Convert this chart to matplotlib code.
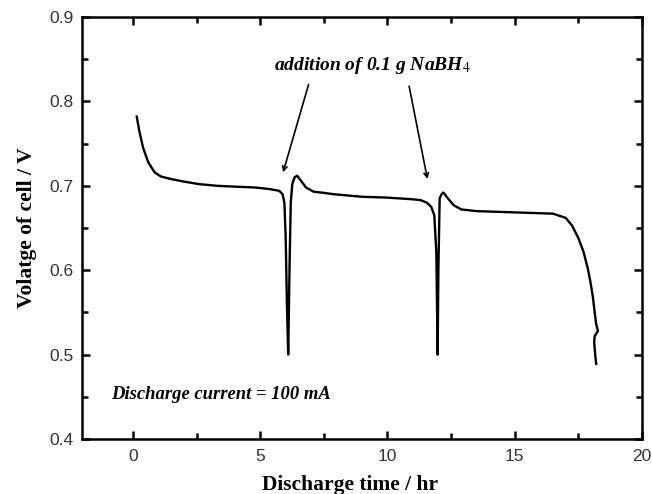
import matplotlib
matplotlib.use("Agg")
import matplotlib.pyplot as plt
from matplotlib.ticker import MultipleLocator

# discharge curve
time_hr = [0.15, 0.25, 0.4, 0.6, 0.85, 1.1, 1.5, 2.0, 2.6, 3.3, 4.0, 4.8, 5.4,
           5.75, 5.88, 5.95, 6.0, 6.05, 6.1, 6.15, 6.2, 6.26, 6.35, 6.45, 6.6,
           6.8, 7.1, 7.4, 7.9, 9.0, 10.0, 11.0, 11.3, 11.55, 11.72, 11.84, 11.92,
           11.97, 12.0, 12.05, 12.12, 12.2, 12.35, 12.6, 12.9, 13.5, 14.5, 15.5,
           16.5, 17.0, 17.25, 17.5, 17.7, 17.87, 17.98, 18.07, 18.14, 18.2,
           18.27, 18.14, 18.12, 18.16, 18.2]
voltage = [0.782, 0.765, 0.745, 0.728, 0.716, 0.711, 0.708, 0.705, 0.702, 0.700,
           0.699, 0.698, 0.696, 0.694, 0.690, 0.680, 0.640, 0.560, 0.500, 0.600,
           0.680, 0.702, 0.710, 0.712, 0.706, 0.698, 0.693, 0.692, 0.690, 0.687,
           0.686, 0.684, 0.683, 0.680, 0.675, 0.665, 0.620, 0.500, 0.600, 0.685,
           0.690, 0.692, 0.686, 0.677, 0.672, 0.670, 0.669, 0.668, 0.667, 0.662,
           0.653, 0.638, 0.622, 0.602, 0.585, 0.568, 0.550, 0.536, 0.528, 0.522,
           0.515, 0.500, 0.489]

# arrows: (tail, head) in data coordinates
arrow_tails = [(6.9, 0.820), (10.85, 0.818)]
arrow_heads = [(5.9, 0.716), (11.57, 0.708)]

plt.rcParams['mathtext.fontset'] = 'stix'

fig = plt.figure(figsize=(6.52, 4.94), dpi=100)
ax = fig.add_axes([0.1258, 0.1113, 0.9847 - 0.1258, 0.9656 - 0.1113])

ax.plot(time_hr, voltage, color='black', lw=1.7, solid_joinstyle='round')

for (tx, ty), (hx, hy) in zip(arrow_tails, arrow_heads):
    ax.annotate('', xy=(hx, hy), xytext=(tx, ty),
                arrowprops=dict(arrowstyle='->', color='black', lw=1.2,
                                shrinkA=0, shrinkB=0, mutation_scale=8))

ax.text(9.4, 0.843, 'addition of 0.1 g NaBH$_4$', ha='center', va='center',
        family='Liberation Serif', weight='bold', style='italic', fontsize=14)
ax.text(-0.85, 0.453, 'Discharge current = 100 mA', ha='left', va='center',
        family='Liberation Serif', weight='bold', style='italic', fontsize=13.4)

ax.set_xlim(-2, 20)
ax.set_ylim(0.4, 0.9)
ax.xaxis.set_minor_locator(MultipleLocator(2.5))
ax.yaxis.set_minor_locator(MultipleLocator(0.05))
ax.tick_params(which='both', direction='in', top=True, right=True, width=1.8)
ax.tick_params(which='major', length=6)
ax.tick_params(which='minor', length=4)
ax.tick_params(axis='x', pad=7)
ax.tick_params(axis='y', pad=6)
ax.set_xticks([0, 5, 10, 15, 20])
ax.set_xticklabels(['0', '5', '10', '15', '20'], family='Liberation Sans',
                   fontsize=12.5, color='#333333')
ax.set_yticks([0.4, 0.5, 0.6, 0.7, 0.8, 0.9])
ax.set_yticklabels(['0.4', '0.5', '0.6', '0.7', '0.8', '0.9'],
                   family='Liberation Sans', fontsize=12.5, color='#333333')

for sp in ax.spines.values():
    sp.set_linewidth(1.8)

ax.set_xlabel('Discharge time / hr', family='Liberation Serif', weight='bold',
              fontsize=15.5, labelpad=6)
ax.xaxis.set_label_coords(0.479, -0.085)
ax.xaxis.label.set_va('top')
ax.set_ylabel('Volatge of cell / V', family='Liberation Serif', weight='bold',
              fontsize=15.5, labelpad=9)

fig.savefig('out.png', dpi=100)
